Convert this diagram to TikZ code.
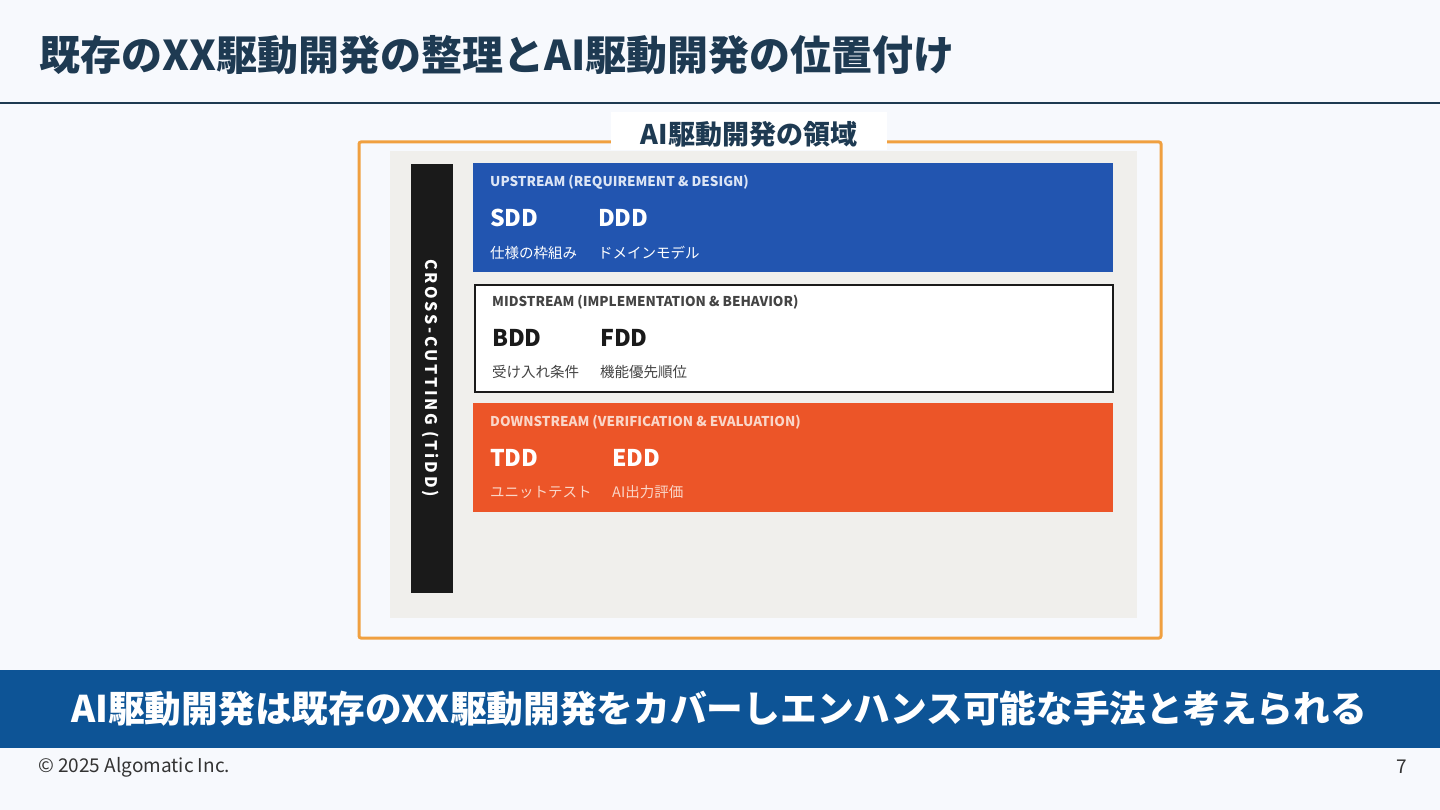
\documentclass[tikz,border=0pt]{standalone}
\usepackage{fontspec}
\setmainfont{Noto Sans CJK JP}
\definecolor{bg}{HTML}{F7F9FD}
\definecolor{navy}{HTML}{1E3A52}
\definecolor{frame}{HTML}{F0A040}
\definecolor{panel}{HTML}{F0EFEC}
\definecolor{bar}{HTML}{1A1A1A}
\definecolor{upblue}{HTML}{2255B0}
\definecolor{downred}{HTML}{EC5528}
\definecolor{band}{HTML}{0D5496}
\definecolor{uplbl}{HTML}{DCE5F5}
\definecolor{downlbl}{HTML}{FAD6C8}
\definecolor{midlbl}{HTML}{444444}
\definecolor{foot}{HTML}{333333}
\tikzset{
  x=1pt,y=-1pt,
  txt/.style={anchor=west,inner sep=0pt,font=\fontsize{#1}{#1}\selectfont},
  lvl/.style={anchor=west,inner sep=0pt,font=\fontsize{13.5}{13.5}\selectfont\bfseries},
  big/.style={anchor=west,inner sep=0pt,font=\fontsize{23}{23}\selectfont\bfseries},
  sub/.style={anchor=west,inner sep=0pt,font=\fontsize{14.5}{14.5}\selectfont},
}
\begin{document}
\begin{tikzpicture}
\fill[bg] (0,0) rectangle (1440,810);
\useasboundingbox (0,0) rectangle (1440,810);
% title
\node[anchor=west,inner sep=0pt,font=\fontsize{41}{41}\selectfont\bfseries,text=navy] (title) at (39,55) {既存のXX駆動開発の整理とAI駆動開発の位置付け};
\draw[navy,line width=2pt] (0,103) -- (1440,103);
% frame
\draw[frame,line width=3pt,rounded corners=2pt] (359,142) rectangle (1161,638);
\node[fill=white,minimum width=276pt,minimum height=38pt,inner sep=0pt] (area) at (749,131) {};
\node[text=navy,inner sep=0pt,font=\fontsize{27}{27}\selectfont\bfseries] (arealbl) at (749,134) {AI駆動開発の領域};
% panel
\fill[panel] (390,151) rectangle (1137,618);
\node[fill=bar,draw=bar,minimum width=41pt,minimum height=428pt,inner sep=0pt,anchor=north west] (cross) at (411,164) {};
\node[rotate=-90,text=white,font=\fontsize{16}{16}\selectfont\bfseries\addfontfeature{LetterSpace=17}] (crosslbl) at (431,378) {CROSS-CUTTING (TiDD)};
% upstream
\node[fill=upblue,minimum width=640pt,minimum height=109pt,inner sep=0pt,anchor=north west] (up) at (473,163) {};
\node[lvl,text=uplbl] (uplabel) at (490,182) {UPSTREAM (REQUIREMENT \& DESIGN)};
\node[big,text=white] (sdd) at (490,218) {SDD};
\node[big,text=white] (ddd) at (598,218) {DDD};
\node[sub,text=white] (sddj) at (490,253) {仕様の枠組み};
\node[sub,text=white] (dddj) at (598,253) {ドメインモデル};
% midstream
\node[fill=white,draw=bar,line width=2pt,minimum width=638pt,minimum height=107pt,inner sep=0pt,anchor=north west] (mid) at (474,284) {};
\node[lvl,text=midlbl] (midlabel) at (492,302) {MIDSTREAM (IMPLEMENTATION \& BEHAVIOR)};
\node[big,text=bar] (bdd) at (492,338) {BDD};
\node[big,text=bar] (fdd) at (600,338) {FDD};
\node[sub,text=midlbl] (bddj) at (492,372) {受け入れ条件};
\node[sub,text=midlbl] (fddj) at (600,372) {機能優先順位};
% downstream
\node[fill=downred,minimum width=640pt,minimum height=109pt,inner sep=0pt,anchor=north west] (down) at (473,403) {};
\node[lvl,text=downlbl] (downlabel) at (490,422) {DOWNSTREAM (VERIFICATION \& EVALUATION)};
\node[big,text=white] (tdd) at (490,458) {TDD};
\node[big,text=white] (edd) at (612,458) {EDD};
\node[sub,text=downlbl] (tddj) at (490,492) {ユニットテスト};
\node[sub,text=downlbl] (eddj) at (612,492) {AI出力評価};
% band
\node[fill=band,minimum width=1440pt,minimum height=78pt,inner sep=0pt,anchor=north west] (bandbox) at (0,670) {};
\node[text=white,font=\fontsize{36.7}{36.7}\selectfont\bfseries,inner sep=0pt] (concl) at (719,709) {AI駆動開発は既存のXX駆動開発をカバーしエンハンス可能な手法と考えられる};
% footer
\node[txt=19,text=foot] (copy) at (38,767) {© 2025 Algomatic Inc.};
\node[anchor=east,inner sep=0pt,font=\fontsize{19}{19}\selectfont,text=foot] (page) at (1407,767) {7};
\end{tikzpicture}
\end{document}
